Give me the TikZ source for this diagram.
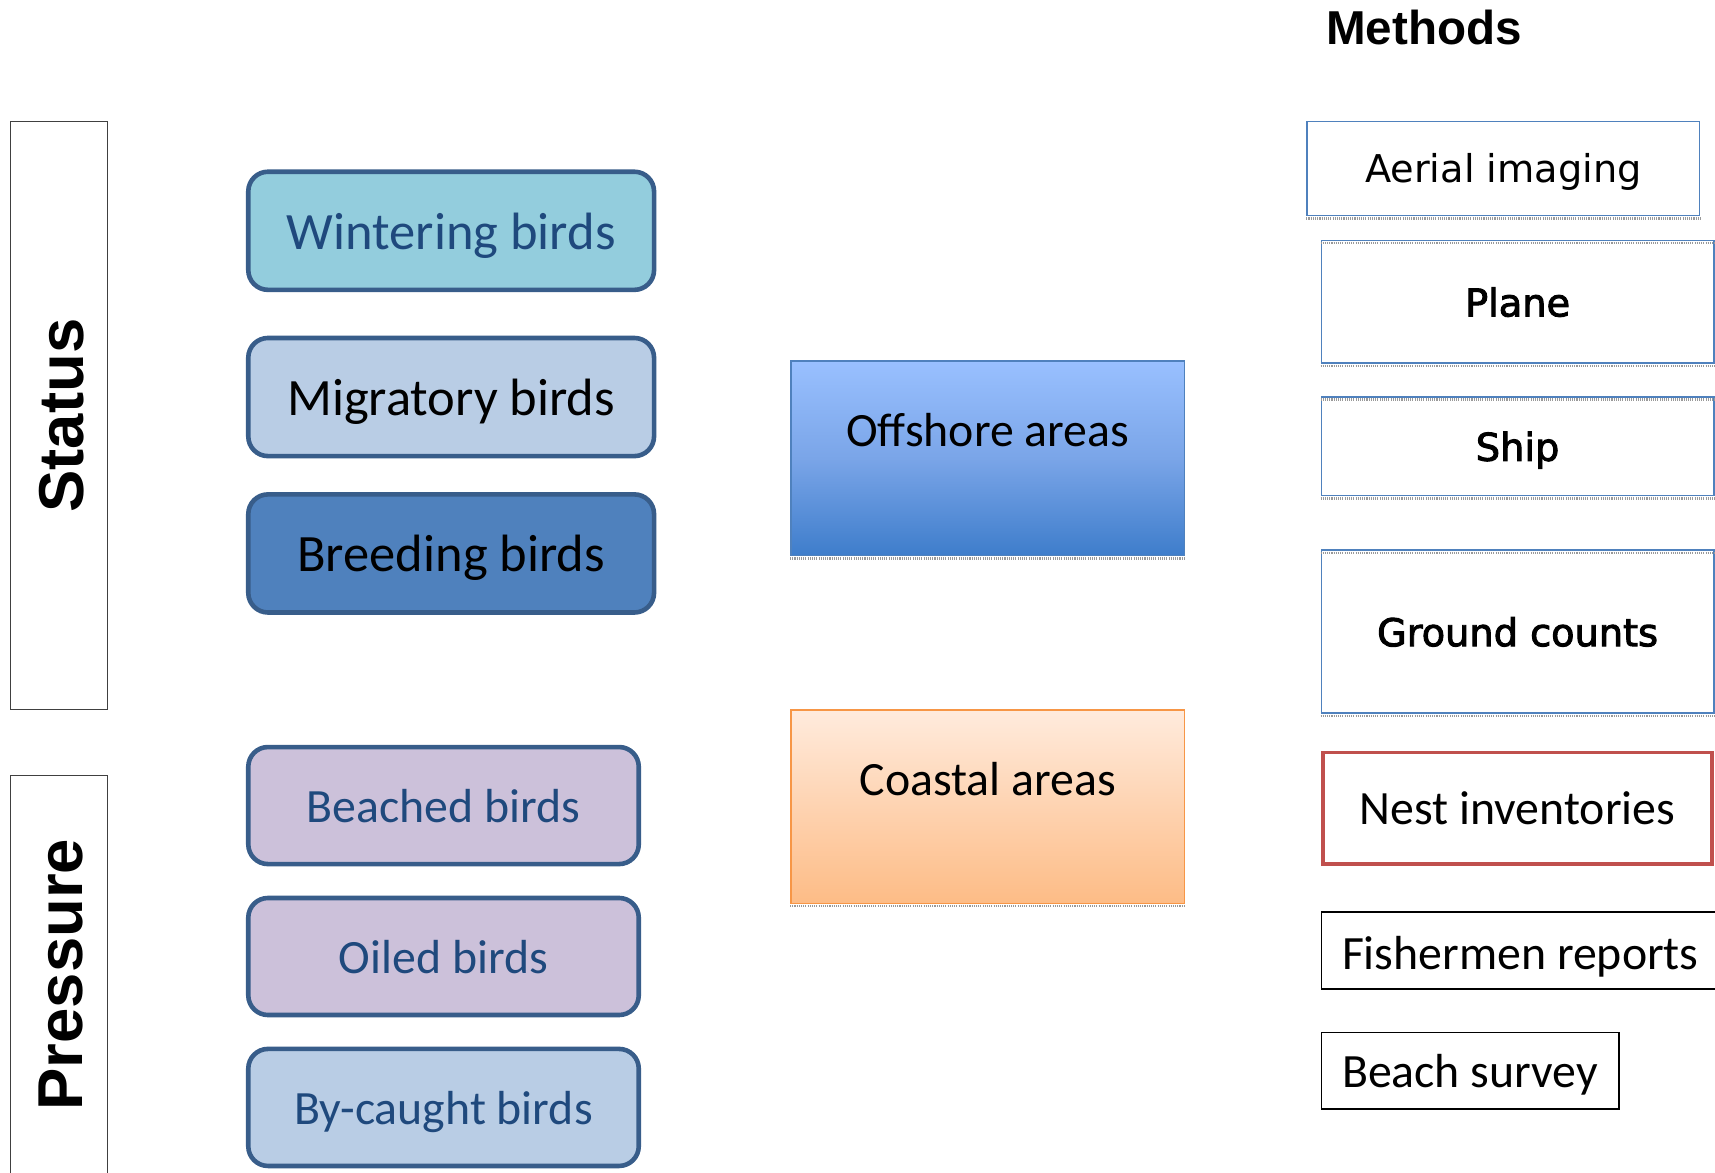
\documentclass[tikz,border=0pt]{standalone}
\usepackage{fontspec}
\setmainfont{Carlito}
\newfontfamily\headfont{Liberation Sans}
\newfontfamily\methfont{DejaVu Sans}
\newfontfamily\methbold[FakeBold=2.5]{DejaVu Sans}
\definecolor{bordblue}{HTML}{385D8A}
\definecolor{txtblue}{HTML}{1F497D}
\definecolor{wintfill}{HTML}{93CDDD}
\definecolor{migfill}{HTML}{B9CDE5}
\definecolor{breedfill}{HTML}{4F81BD}
\definecolor{lilac}{HTML}{CCC1DA}
\definecolor{accblue}{HTML}{4F81BD}
\definecolor{accred}{HTML}{C0504D}
\definecolor{accorange}{HTML}{F79646}
\definecolor{offtop}{RGB}{153,192,255}
\definecolor{offmid}{RGB}{122,165,232}
\definecolor{offbot}{RGB}{62,125,203}
\definecolor{coatop}{RGB}{255,235,221}
\definecolor{coamid}{RGB}{254,211,177}
\definecolor{coabot}{RGB}{253,188,134}
\definecolor{framegray}{HTML}{404040}
\begin{document}
\begin{tikzpicture}[x=1pt,y=-1pt,
  rbox/.style={draw=bordblue, line width=4.2pt, rounded corners=18pt, inner sep=0pt, text depth=0pt},
  bigtxt/.style={font=\fontsize{48}{58}\selectfont, text depth=0pt},
  midtxt/.style={font=\fontsize{43.7}{52}\selectfont, text depth=0pt},
  headtxt/.style={font=\headfont\bfseries\fontsize{58}{66}\selectfont},
  frame/.style={draw=framegray, line width=1pt, inner sep=0pt},
  areabox/.style={line width=1.3pt, inner sep=0pt},
  methbox/.style={draw=accblue, line width=1.4pt, inner sep=0pt},
  plainbox/.style={draw=black, line width=1.4pt, inner sep=0pt},
  methtxt/.style={font=\methfont\fontsize{35}{42}\selectfont, text depth=0pt},
  methbtxt/.style={font=\methbold\fontsize{35}{42}\selectfont, text depth=0pt},
  shadowline/.style={draw=gray!80, line width=2pt, dash pattern=on 1pt off 1pt}
]
\useasboundingbox (0,0) rectangle (1568,1072);
\fill[white] (0,0) rectangle (1568,1072);

% left frames
\node[frame, minimum width=88pt, minimum height=538pt] (statusbox) at (54,380) {};
\node[headtxt, rotate=90] (statustxt) at (56,380) {Status};
\node[frame, minimum width=88pt, minimum height=380pt] (pressbox) at (54,899) {};
\node[headtxt, rotate=90] (presstxt) at (56,891) {Pressure};

% status boxes
\node[rbox, fill=wintfill, minimum width=371pt, minimum height=108pt, bigtxt, text=txtblue] (wint) at (412.5,211) {Wintering birds};
\node[rbox, fill=migfill, minimum width=371pt, minimum height=108pt, bigtxt] (mig) at (412.5,363) {Migratory birds};
\node[rbox, fill=breedfill, minimum width=371pt, minimum height=108pt, bigtxt] (breed) at (412.5,506) {Breeding birds};

% pressure boxes
\node[rbox, fill=lilac, minimum width=357pt, minimum height=107pt, midtxt, text=txtblue] (beach) at (405.5,736.5) {Beached birds};
\node[rbox, fill=lilac, minimum width=357pt, minimum height=107pt, midtxt, text=txtblue] (oiled) at (405.5,874.5) {Oiled birds};
\node[rbox, fill=migfill, minimum width=357pt, minimum height=107pt, midtxt, text=txtblue] (bycaught) at (405.5,1012.5) {By-caught birds};

% areas
\node[areabox, draw=accblue, top color=offtop, bottom color=offbot, middle color=offmid, minimum width=360pt, minimum height=178pt] (off) at (903,419) {};
\node[midtxt] (offtxt) at (903,393) {Offshore areas};
\draw[shadowline] ([yshift=-2pt]off.south west) -- ([yshift=-2pt]off.south east);
\node[areabox, draw=accorange, top color=coatop, bottom color=coabot, middle color=coamid, minimum width=360pt, minimum height=177pt] (coast) at (903,737.5) {};
\node[midtxt] (coasttxt) at (903,712) {Coastal areas};
\draw[shadowline] ([yshift=-2pt]coast.south west) -- ([yshift=-2pt]coast.south east);

% methods
\node[font=\headfont\bfseries\fontsize{43.5}{50}\selectfont] (methods) at (1302,25) {Methods};

\node[methbox, minimum width=359pt, minimum height=86pt, methtxt] (aerial) at (1374.5,154) {Aerial imaging};
\draw[shadowline] ([yshift=-2pt]aerial.south west) -- ([yshift=-2pt]aerial.south east);

\node[methbox, minimum width=359pt, minimum height=112pt, methbtxt] (plane) at (1387.5,276) {Plane};
\draw[shadowline] ([yshift=-3pt]plane.north west) -- ([yshift=-3pt]plane.north east);
\draw[shadowline] ([yshift=-2pt]plane.south west) -- ([yshift=-2pt]plane.south east);

\node[methbox, minimum width=359pt, minimum height=90pt, methbtxt] (ship) at (1387.5,408) {Ship};
\draw[shadowline] ([yshift=-3pt]ship.north west) -- ([yshift=-3pt]ship.north east);
\draw[shadowline] ([yshift=-2pt]ship.south west) -- ([yshift=-2pt]ship.south east);

\node[methbox, minimum width=359pt, minimum height=149pt, methbtxt] (ground) at (1387.5,577.5) {Ground counts};
\draw[shadowline] ([yshift=-3pt]ground.north west) -- ([yshift=-3pt]ground.north east);
\draw[shadowline] ([yshift=-2pt]ground.south west) -- ([yshift=-2pt]ground.south east);

\node[draw=accred, line width=3.6pt, inner sep=0pt, minimum width=355pt, minimum height=102pt, midtxt] (nest) at (1387.5,739) {Nest inventories};

\node[plainbox, minimum width=362pt, minimum height=70pt] (fish) at (1389,869) {};
\node[midtxt] (fishtxt) at (1390,871) {Fishermen reports};

\node[plainbox, minimum width=272pt, minimum height=70pt, midtxt] (beachs) at (1344,979) {Beach survey};
\end{tikzpicture}
\end{document}
